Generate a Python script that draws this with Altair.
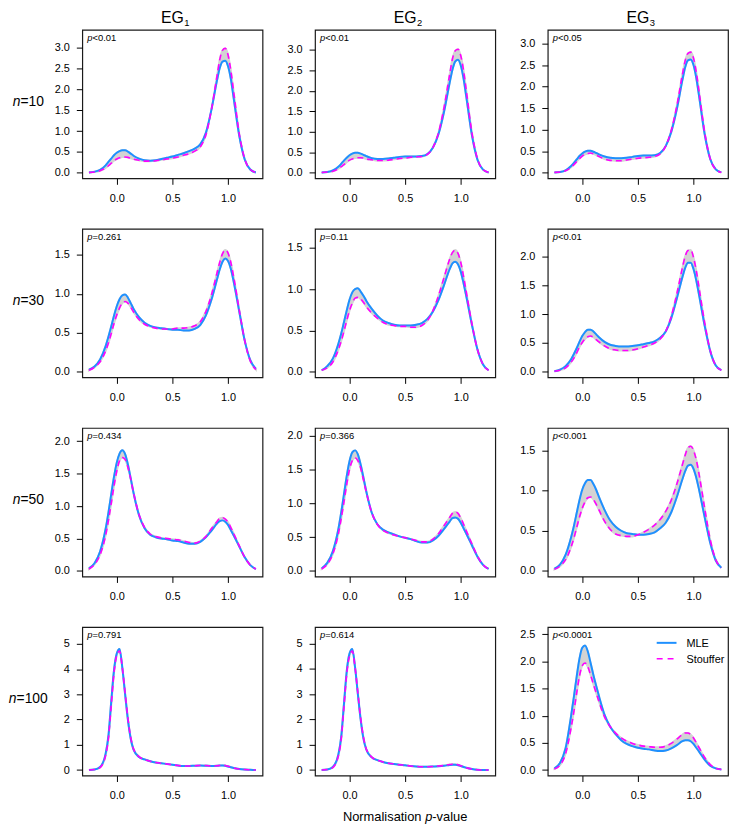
import altair as alt
import pandas as pd

# ---------------- data ----------------
X = [-0.25, -0.2, -0.15, -0.1, -0.075, -0.05, -0.025,
     0.0, 0.025, 0.05, 0.075, 0.1, 0.125, 0.15,
     0.2, 0.25, 0.3, 0.35, 0.4, 0.45, 0.5,
     0.55, 0.6, 0.65, 0.7, 0.75, 0.8, 0.85,
     0.9, 0.925, 0.95, 0.975, 1.0, 1.025, 1.05,
     1.1, 1.15, 1.2, 1.25]

mle_10_1 = [0.01, 0.03, 0.07, 0.18, 0.26, 0.34, 0.42,
            0.48, 0.52, 0.54, 0.54, 0.51, 0.46, 0.41,
            0.34, 0.30, 0.29, 0.30, 0.33, 0.36, 0.39,
            0.43, 0.47, 0.52, 0.58, 0.68, 0.95, 1.50,
            2.20, 2.50, 2.66, 2.68, 2.55, 2.25, 1.80,
            0.90, 0.32, 0.08, 0.01]
sto_10_1 = [0.01, 0.02, 0.05, 0.12, 0.17, 0.23, 0.29,
            0.33, 0.36, 0.38, 0.38, 0.37, 0.35, 0.33,
            0.30, 0.28, 0.28, 0.29, 0.31, 0.33, 0.35,
            0.38, 0.42, 0.46, 0.52, 0.62, 0.90, 1.50,
            2.30, 2.70, 2.93, 2.98, 2.82, 2.45, 1.95,
            0.95, 0.33, 0.08, 0.01]
mle_10_2 = [0.01, 0.02, 0.06, 0.15, 0.22, 0.30, 0.37,
            0.43, 0.47, 0.49, 0.49, 0.47, 0.44, 0.41,
            0.36, 0.34, 0.34, 0.35, 0.37, 0.39, 0.40,
            0.40, 0.40, 0.41, 0.46, 0.62, 0.95, 1.50,
            2.20, 2.52, 2.72, 2.76, 2.62, 2.30, 1.85,
            0.92, 0.32, 0.08, 0.01]
sto_10_2 = [0.01, 0.02, 0.04, 0.10, 0.15, 0.20, 0.26,
            0.31, 0.34, 0.36, 0.37, 0.37, 0.36, 0.34,
            0.32, 0.30, 0.30, 0.31, 0.33, 0.35, 0.36,
            0.38, 0.39, 0.40, 0.45, 0.62, 0.98, 1.60,
            2.40, 2.78, 2.98, 3.02, 2.86, 2.50, 2.00,
            0.98, 0.34, 0.08, 0.01]
mle_10_3 = [0.01, 0.02, 0.06, 0.16, 0.23, 0.31, 0.39,
            0.45, 0.49, 0.51, 0.51, 0.49, 0.46, 0.43,
            0.38, 0.35, 0.34, 0.34, 0.35, 0.37, 0.39,
            0.40, 0.40, 0.41, 0.46, 0.62, 0.95, 1.48,
            2.15, 2.45, 2.61, 2.63, 2.50, 2.20, 1.78,
            0.90, 0.32, 0.08, 0.01]
sto_10_3 = [0.01, 0.02, 0.05, 0.13, 0.19, 0.26, 0.33,
            0.39, 0.43, 0.45, 0.46, 0.44, 0.41, 0.38,
            0.32, 0.29, 0.28, 0.28, 0.30, 0.32, 0.34,
            0.35, 0.36, 0.38, 0.44, 0.62, 0.98, 1.55,
            2.28, 2.60, 2.77, 2.80, 2.66, 2.33, 1.88,
            0.94, 0.33, 0.08, 0.01]

mle_30_1 = [0.03, 0.07, 0.16, 0.33, 0.45, 0.58, 0.72,
            0.84, 0.93, 0.98, 0.99, 0.95, 0.88, 0.81,
            0.70, 0.63, 0.59, 0.57, 0.56, 0.55, 0.54,
            0.54, 0.53, 0.53, 0.55, 0.60, 0.72, 0.92,
            1.18, 1.31, 1.41, 1.45, 1.42, 1.32, 1.16,
            0.78, 0.40, 0.15, 0.04]
sto_30_1 = [0.02, 0.06, 0.13, 0.27, 0.37, 0.49, 0.62,
            0.73, 0.82, 0.88, 0.90, 0.88, 0.83, 0.77,
            0.67, 0.61, 0.58, 0.56, 0.55, 0.55, 0.55,
            0.56, 0.56, 0.57, 0.59, 0.64, 0.77, 0.98,
            1.26, 1.40, 1.51, 1.56, 1.52, 1.40, 1.22,
            0.80, 0.40, 0.14, 0.03]
mle_30_2 = [0.02, 0.07, 0.16, 0.34, 0.46, 0.60, 0.74,
            0.87, 0.96, 1.00, 1.01, 0.97, 0.92, 0.86,
            0.76, 0.68, 0.62, 0.59, 0.57, 0.56, 0.56,
            0.56, 0.57, 0.59, 0.64, 0.73, 0.87, 1.05,
            1.24, 1.31, 1.33, 1.30, 1.21, 1.07, 0.91,
            0.57, 0.27, 0.09, 0.02]
sto_30_2 = [0.02, 0.05, 0.12, 0.27, 0.37, 0.49, 0.62,
            0.74, 0.83, 0.89, 0.90, 0.88, 0.84, 0.79,
            0.71, 0.65, 0.60, 0.57, 0.56, 0.55, 0.55,
            0.54, 0.54, 0.56, 0.62, 0.74, 0.92, 1.14,
            1.36, 1.44, 1.47, 1.43, 1.32, 1.15, 0.96,
            0.58, 0.27, 0.09, 0.02]
mle_30_3 = [0.01, 0.04, 0.10, 0.22, 0.31, 0.41, 0.52,
            0.62, 0.69, 0.73, 0.73, 0.70, 0.65, 0.60,
            0.52, 0.47, 0.45, 0.44, 0.44, 0.45, 0.46,
            0.48, 0.50, 0.53, 0.59, 0.70, 0.93, 1.27,
            1.64, 1.80, 1.89, 1.89, 1.78, 1.58, 1.33,
            0.80, 0.36, 0.11, 0.03]
sto_30_3 = [0.01, 0.03, 0.07, 0.17, 0.24, 0.33, 0.43,
            0.51, 0.57, 0.61, 0.62, 0.60, 0.56, 0.52,
            0.45, 0.40, 0.38, 0.37, 0.37, 0.38, 0.40,
            0.43, 0.46, 0.50, 0.57, 0.70, 0.96, 1.35,
            1.80, 2.00, 2.10, 2.11, 1.98, 1.75, 1.45,
            0.85, 0.37, 0.11, 0.03]

mle_50_1 = [0.04, 0.12, 0.30, 0.65, 0.90, 1.18, 1.45,
            1.67, 1.81, 1.86, 1.80, 1.64, 1.43, 1.21,
            0.86, 0.66, 0.56, 0.52, 0.50, 0.49, 0.47,
            0.46, 0.44, 0.42, 0.42, 0.45, 0.52, 0.62,
            0.73, 0.77, 0.78, 0.76, 0.71, 0.63, 0.55,
            0.38, 0.21, 0.09, 0.03]
sto_50_1 = [0.03, 0.10, 0.25, 0.55, 0.78, 1.04, 1.31,
            1.54, 1.70, 1.75, 1.72, 1.60, 1.42, 1.21,
            0.87, 0.67, 0.57, 0.53, 0.51, 0.50, 0.49,
            0.48, 0.46, 0.44, 0.43, 0.46, 0.53, 0.65,
            0.76, 0.81, 0.82, 0.80, 0.75, 0.67, 0.58,
            0.39, 0.21, 0.09, 0.03]
mle_50_2 = [0.04, 0.12, 0.29, 0.62, 0.86, 1.13, 1.40,
            1.62, 1.75, 1.78, 1.72, 1.57, 1.38, 1.18,
            0.86, 0.69, 0.61, 0.57, 0.54, 0.51, 0.49,
            0.47, 0.44, 0.42, 0.42, 0.45, 0.52, 0.62,
            0.73, 0.78, 0.79, 0.77, 0.71, 0.63, 0.55,
            0.38, 0.21, 0.09, 0.03]
sto_50_2 = [0.03, 0.10, 0.25, 0.55, 0.77, 1.02, 1.28,
            1.50, 1.63, 1.67, 1.63, 1.52, 1.35, 1.17,
            0.86, 0.69, 0.60, 0.56, 0.53, 0.51, 0.49,
            0.47, 0.45, 0.43, 0.43, 0.47, 0.55, 0.67,
            0.79, 0.85, 0.87, 0.85, 0.78, 0.69, 0.59,
            0.40, 0.22, 0.09, 0.03]
mle_50_3 = [0.03, 0.08, 0.20, 0.42, 0.56, 0.72, 0.88,
            1.01, 1.09, 1.13, 1.13, 1.08, 1.01, 0.92,
            0.76, 0.63, 0.55, 0.50, 0.47, 0.46, 0.45,
            0.45, 0.46, 0.48, 0.53, 0.60, 0.73, 0.92,
            1.14, 1.24, 1.31, 1.32, 1.27, 1.16, 1.01,
            0.67, 0.35, 0.13, 0.04]
sto_50_3 = [0.02, 0.06, 0.14, 0.30, 0.41, 0.54, 0.67,
            0.78, 0.86, 0.91, 0.92, 0.89, 0.83, 0.76,
            0.62, 0.52, 0.46, 0.44, 0.43, 0.43, 0.45,
            0.48, 0.52, 0.57, 0.64, 0.74, 0.88, 1.08,
            1.32, 1.44, 1.53, 1.55, 1.50, 1.38, 1.20,
            0.78, 0.39, 0.14, 0.04]

mle_100_1 = [0.00, 0.02, 0.12, 0.65, 1.35, 2.70, 3.95,
             4.62, 4.80, 4.05, 3.00, 2.00, 1.25, 0.82,
             0.52, 0.42, 0.35, 0.30, 0.27, 0.24, 0.21,
             0.18, 0.16, 0.16, 0.17, 0.18, 0.17, 0.16,
             0.17, 0.18, 0.18, 0.17, 0.14, 0.11, 0.08,
             0.04, 0.02, 0.01, 0.00]
sto_100_1 = [0.00, 0.02, 0.10, 0.58, 1.25, 2.55, 3.85,
             4.55, 4.72, 4.05, 3.05, 2.05, 1.30, 0.84,
             0.53, 0.42, 0.35, 0.30, 0.27, 0.24, 0.21,
             0.18, 0.16, 0.16, 0.17, 0.18, 0.18, 0.16,
             0.17, 0.18, 0.19, 0.18, 0.15, 0.12, 0.08,
             0.04, 0.02, 0.01, 0.00]
mle_100_2 = [0.00, 0.02, 0.12, 0.62, 1.30, 2.60, 3.90,
             4.60, 4.78, 4.05, 3.00, 2.00, 1.25, 0.82,
             0.50, 0.39, 0.32, 0.27, 0.24, 0.21, 0.19,
             0.16, 0.14, 0.13, 0.13, 0.14, 0.15, 0.17,
             0.20, 0.21, 0.21, 0.19, 0.16, 0.12, 0.09,
             0.04, 0.01, 0.00, 0.00]
sto_100_2 = [0.00, 0.02, 0.10, 0.56, 1.20, 2.50, 3.80,
             4.50, 4.70, 4.05, 3.05, 2.05, 1.30, 0.84,
             0.51, 0.39, 0.32, 0.27, 0.24, 0.21, 0.19,
             0.16, 0.14, 0.13, 0.13, 0.14, 0.16, 0.18,
             0.22, 0.23, 0.23, 0.21, 0.17, 0.13, 0.09,
             0.04, 0.01, 0.00, 0.00]
mle_100_3 = [0.03, 0.13, 0.40, 1.00, 1.35, 1.72, 2.05,
             2.25, 2.29, 2.18, 1.97, 1.75, 1.55, 1.36,
             1.02, 0.80, 0.66, 0.55, 0.48, 0.44, 0.41,
             0.39, 0.38, 0.36, 0.35, 0.36, 0.40, 0.46,
             0.53, 0.55, 0.55, 0.53, 0.48, 0.41, 0.34,
             0.19, 0.08, 0.03, 0.01]
sto_100_3 = [0.02, 0.09, 0.30, 0.78, 1.08, 1.42, 1.73,
             1.92, 1.97, 1.90, 1.75, 1.58, 1.42, 1.26,
             0.98, 0.80, 0.68, 0.59, 0.53, 0.49, 0.46,
             0.44, 0.43, 0.42, 0.42, 0.44, 0.49, 0.57,
             0.65, 0.68, 0.68, 0.65, 0.59, 0.50, 0.41,
             0.23, 0.10, 0.03, 0.01]

MLE = [[mle_10_1, mle_10_2, mle_10_3],
       [mle_30_1, mle_30_2, mle_30_3],
       [mle_50_1, mle_50_2, mle_50_3],
       [mle_100_1, mle_100_2, mle_100_3]]
STO = [[sto_10_1, sto_10_2, sto_10_3],
       [sto_30_1, sto_30_2, sto_30_3],
       [sto_50_1, sto_50_2, sto_50_3],
       [sto_100_1, sto_100_2, sto_100_3]]

N_VALUES = ["10", "30", "50", "100"]
GROUP_SUBS = ["1", "2", "3"]
P_REST = [["<0.01", "<0.01", "<0.05"],
          ["=0.261", "=0.11", "<0.01"],
          ["=0.434", "=0.366", "<0.001"],
          ["=0.791", "=0.614", "<0.0001"]]
YMAX = [[3.29, 3.36, 3.19],
        [1.76, 1.66, 2.38],
        [2.12, 2.03, 1.71],
        [5.45, 5.43, 2.53]]
YTICKS = [[[0, 0.5, 1, 1.5, 2, 2.5, 3]] * 3,
          [[0, 0.5, 1, 1.5], [0, 0.5, 1, 1.5], [0, 0.5, 1, 1.5, 2]],
          [[0, 0.5, 1, 1.5, 2], [0, 0.5, 1, 1.5, 2], [0, 0.5, 1, 1.5]],
          [[0, 1, 2, 3, 4, 5], [0, 1, 2, 3, 4, 5], [0, 0.5, 1, 1.5, 2, 2.5]]]
XTICKS = [0, 0.5, 1.0]
LEGEND = ["MLE", "Stouffer"]
XTITLE = ["Normalisation ", "p", "-value"]

# ---------------- style ----------------
BLUE = "#1E90FF"
MAGENTA = "#FF00FF"
BAND = "#D3D3D3"
FONT = "Liberation Sans"
W, H = 182, 150

ADV = {"N": 722, "o": 556, "r": 333, "m": 833, "a": 556, "l": 222, "i": 222,
       "s": 500, "t": 278, "n": 556, " ": 278, "p": 556, "-": 333, "v": 500,
       "u": 556, "e": 556, "=": 584, "<": 584, ".": 278, "E": 667, "G": 778}


def tw(s, size):
    return sum(ADV.get(ch, 556) for ch in s) * size / 1000.0


def txt(label, x, y, size, style="normal", align="left", baseline="alphabetic"):
    return alt.Chart(pd.DataFrame({"t": [label]})).mark_text(
        align=align, baseline=baseline, fontSize=size, fontStyle=style,
        font=FONT, color="black"
    ).encode(x=alt.value(x), y=alt.value(y), text="t:N")


def panel(r, c):
    df = pd.DataFrame({"x": X, "mle": MLE[r][c], "sto": STO[r][c]})
    df["lo"] = df[["mle", "sto"]].min(axis=1)
    df["hi"] = df[["mle", "sto"]].max(axis=1)
    m = YMAX[r][c]
    xs = alt.Scale(domain=[-0.31, 1.31], nice=False, zero=False)
    ys = alt.Scale(domain=[-0.04 * m, 1.04 * m], nice=False, zero=False)
    fmt = "d" if (r == 3 and c < 2) else ".1f"
    xax = alt.Axis(values=XTICKS, format=".1f", title=None, tickSize=6,
                   labelPadding=8, labelFlush=False, labelOverlap=False)
    yax = alt.Axis(values=YTICKS[r][c], format=fmt, title=None, tickSize=6,
                   labelPadding=7, labelFlush=False, labelOverlap=False)
    xe = alt.X("x:Q", scale=xs, axis=xax)
    base = alt.Chart(df)
    band = base.mark_area(color=BAND, stroke=BAND, strokeWidth=2,
                          interpolate="monotone").encode(
        x=xe, y=alt.Y("lo:Q", scale=ys, axis=yax), y2="hi:Q")
    l_mle = base.mark_line(color=BLUE, strokeWidth=2,
                           interpolate="monotone").encode(
        x=xe, y=alt.Y("mle:Q", scale=ys, axis=yax))
    l_sto = base.mark_line(color=MAGENTA, strokeWidth=1.6, strokeDash=[6, 4],
                           interpolate="monotone").encode(
        x=xe, y=alt.Y("sto:Q", scale=ys, axis=yax))
    layers = [band, l_mle, l_sto]

    # p-value label
    layers.append(txt("p", 5, 11, 9.5, "italic"))
    layers.append(txt(P_REST[r][c], 5 + tw("p", 9.5), 11, 9.5))

    # row labels
    if c == 0:
        rest = "=" + N_VALUES[r]
        total = tw("n", 14) + tw(rest, 14)
        x0 = -54.5 - total / 2
        layers.append(txt("n", x0, 77, 14, "italic"))
        layers.append(txt(rest, x0 + tw("n", 14), 77, 14))

    # column headers
    if r == 0:
        layers.append(txt("EG", W / 2, -7, 16, align="center"))
        layers.append(txt(GROUP_SUBS[c], W / 2 + tw("EG", 16) / 2 + 0.5, -3.5, 9.5))

    # x-axis title
    if r == 3 and c == 1:
        total = tw("".join(XTITLE), 13)
        x0 = W / 2 - total / 2
        layers.append(txt(XTITLE[0], x0, 196, 13))
        layers.append(txt(XTITLE[1], x0 + tw(XTITLE[0], 13), 196, 13, "italic"))
        layers.append(txt(XTITLE[2], x0 + tw(XTITLE[0] + XTITLE[1], 13), 196, 13))

    # legend
    if r == 3 and c == 2:
        leg = pd.DataFrame({"name": LEGEND})
        layers.append(alt.Chart(leg.iloc[[0]]).mark_rule(color=BLUE, strokeWidth=2).encode(
            x=alt.value(110), x2=alt.value(130), y=alt.value(16)))
        layers.append(alt.Chart(leg.iloc[[1]]).mark_rule(
            color=MAGENTA, strokeWidth=1.6, strokeDash=[6, 5]).encode(
            x=alt.value(110), x2=alt.value(130), y=alt.value(32)))
        layers.append(txt(LEGEND[0], 140, 20, 11))
        layers.append(txt(LEGEND[1], 140, 36, 11))

    return alt.layer(*layers).properties(width=W, height=H)


panels = [panel(r, c) for r in range(4) for c in range(3)]

chart = alt.concat(
    *panels, columns=3, spacing={"row": 51, "column": 53}, bounds="flush"
).properties(
    padding={"left": 0, "top": -3, "right": 0, "bottom": 4}
).configure(
    font=FONT
).configure_view(
    stroke="#1a1a1a", strokeWidth=1.2
).configure_axis(
    grid=False, domain=False, labelFont=FONT, labelFontSize=11,
    labelColor="black", tickColor="black", tickWidth=1
)

chart.save("out.html", embed_options={"renderer": "svg", "actions": False})
